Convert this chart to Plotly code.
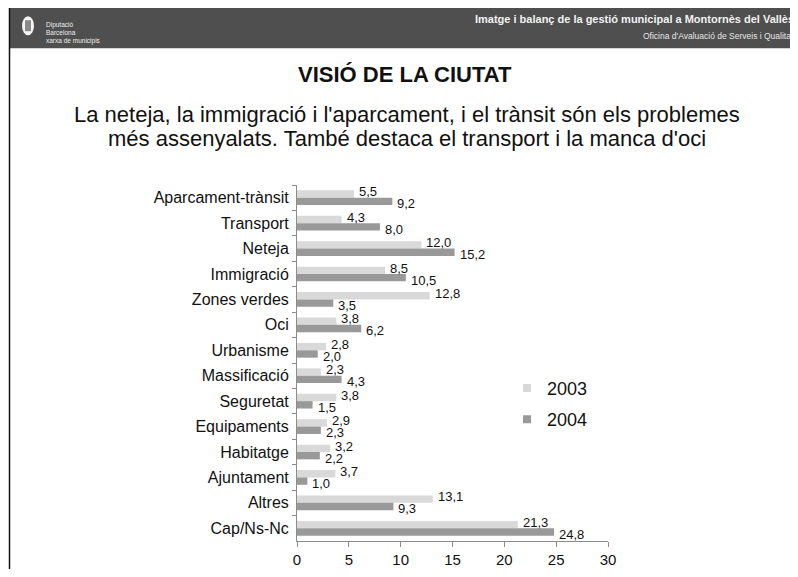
import plotly.graph_objects as go

categories = ["Aparcament-trànsit", "Transport", "Neteja", "Immigració", "Zones verdes",
              "Oci", "Urbanisme", "Massificació", "Seguretat", "Equipaments",
              "Habitatge", "Ajuntament", "Altres", "Cap/Ns-Nc"]
values_2003 = [5.5, 4.3, 12.0, 8.5, 12.8, 3.8, 2.8, 2.3, 3.8, 2.9, 3.2, 3.7, 13.1, 21.3]
values_2004 = [9.2, 8.0, 15.2, 10.5, 3.5, 6.2, 2.0, 4.3, 1.5, 2.3, 2.2, 1.0, 9.3, 24.8]
series_names = ["2003", "2004"]
x_ticks = [0, 5, 10, 15, 20, 25, 30]

title = "VISIÓ DE LA CIUTAT"
subtitle_lines = ["La neteja, la immigració i l'aparcament, i el trànsit són els problemes",
                  "més assenyalats. També destaca el transport i la manca d'oci"]
header_title = "Imatge i balanç de la gestió municipal a Montornès del Vallès"
header_sub = "Oficina d'Avaluació de Serveis i Qualitat"
logo_lines = ["Diputació", "Barcelona", "xarxa de municipis"]

C2003 = "#d9d9d9"
C2004 = "#999999"
FONT = "Liberation Sans, Arial, sans-serif"

OFF = 8  # page body margin
W, H = 798 - OFF, 577 - 2 * OFF
# plot area in screen coords
L, R, T, B = 297, 608, 185, 541.5


def px(x):
    return (x - L) / (R - L)


def py(y):
    return (B - y) / (B - T)


def fmt(v):
    return f"{v:.1f}".replace(".", ",")


fig = go.Figure()
fig.add_trace(go.Bar(y=categories, x=values_2003, orientation="h", name=series_names[0],
                     marker=dict(color=C2003, line=dict(width=0)), showlegend=False))
fig.add_trace(go.Bar(y=categories, x=values_2004, orientation="h", name=series_names[1],
                     marker=dict(color=C2004, line=dict(width=0)), showlegend=False))
for nm, col in zip(series_names, [C2003, C2004]):
    fig.add_trace(go.Scatter(x=[None], y=[None], mode="markers", name=nm, legendgroup=nm,
                             marker=dict(symbol="square", size=8, color=col)))

annotations = []
for cat, v in zip(categories, values_2003):
    annotations.append(dict(x=v, y=cat, xref="x", yref="y", text=fmt(v), showarrow=False,
                            xanchor="left", yanchor="middle", xshift=3, yshift=6,
                            font=dict(family=FONT, size=13, color="#111")))
for cat, v in zip(categories, values_2004):
    annotations.append(dict(x=v, y=cat, xref="x", yref="y", text=fmt(v), showarrow=False,
                            xanchor="left", yanchor="middle", xshift=3, yshift=-6,
                            font=dict(family=FONT, size=13, color="#111")))

annotations += [
    dict(x=px(405), y=py(74), xref="paper", yref="paper", text=f"<b>{title}</b>",
         showarrow=False, xanchor="center", yanchor="middle",
         font=dict(family=FONT, size=22, color="#111")),
    dict(x=px(407), y=py(114), xref="paper", yref="paper", text=subtitle_lines[0],
         showarrow=False, xanchor="center", yanchor="middle",
         font=dict(family=FONT, size=22, color="#111")),
    dict(x=px(407), y=py(138), xref="paper", yref="paper", text=subtitle_lines[1],
         showarrow=False, xanchor="center", yanchor="middle",
         font=dict(family=FONT, size=22, color="#111")),
    dict(x=px(796), y=py(19), xref="paper", yref="paper", text=f"<b>{header_title}</b>",
         showarrow=False, xanchor="right", yanchor="middle",
         font=dict(family=FONT, size=11, color="#f2f2f2")),
    dict(x=px(796), y=py(36), xref="paper", yref="paper", text=header_sub,
         showarrow=False, xanchor="right", yanchor="middle",
         font=dict(family=FONT, size=8.5, color="#e6e6e6")),
]
for i, t in enumerate(logo_lines):
    annotations.append(dict(x=px(44), y=py(24.5 + 8.25 * i), xref="paper", yref="paper", text=t,
                            showarrow=False, xanchor="left", yanchor="middle",
                            font=dict(family=FONT, size=6.5, color="#eeeeee")))

shapes = [
    dict(type="rect", xref="paper", yref="paper", x0=px(9), x1=px(800), y0=py(48), y1=py(6),
         fillcolor="#4f4f4f", line=dict(width=0), layer="below"),
    dict(type="line", xref="paper", yref="paper", x0=px(9), x1=px(800), y0=py(5.5), y1=py(5.5),
         line=dict(color="#111111", width=2)),
    dict(type="line", xref="paper", yref="paper", x0=px(9.5), x1=px(9.5), y0=py(5), y1=py(580),
         line=dict(color="#111111", width=1.5)),
    dict(type="circle", xref="paper", yref="paper", x0=px(22), x1=px(34), y0=py(35), y1=py(16),
         fillcolor="#f4f4f4", line=dict(width=0)),
    dict(type="rect", xref="paper", yref="paper", x0=px(25), x1=px(31), y0=py(31), y1=py(20),
         fillcolor="#8a8a8a", line=dict(width=0)),
]

fig.update_layout(
    width=W, height=H,
    margin=dict(l=L - OFF, r=(W + OFF) - R, t=T - OFF, b=(H + OFF) - B, pad=0,
                autoexpand=False),
    paper_bgcolor="white", plot_bgcolor="white",
    barmode="group", bargap=0.42, bargroupgap=0,
    font=dict(family=FONT, color="#111"),
    xaxis=dict(range=[0, 30], tickvals=x_ticks, ticktext=[str(t) for t in x_ticks],
               showgrid=False, zeroline=False, showline=True, linecolor="#8c8c8c", linewidth=1,
               ticks="outside", ticklen=5, tickcolor="#8c8c8c", automargin=False,
               tickfont=dict(family=FONT, size=15, color="#111"), fixedrange=True),
    yaxis=dict(categoryorder="array", categoryarray=categories,
               range=[len(categories) - 0.5, -0.5], autorange=False, automargin=False,
               showgrid=False, zeroline=False, showline=True, linecolor="#8c8c8c", linewidth=1,
               ticks="outside", ticklen=4, tickcolor="#8c8c8c", tickson="boundaries",
               ticklabelstandoff=4,
               tickfont=dict(family=FONT, size=16, color="#111"), fixedrange=True),
    legend=dict(x=px(507), y=py(404), xanchor="left", yanchor="middle",
                font=dict(family=FONT, size=18, color="#111"), tracegroupgap=5,
                bgcolor="rgba(0,0,0,0)", borderwidth=0),
    annotations=annotations,
    shapes=shapes,
)

fig.write_html("out.html")
